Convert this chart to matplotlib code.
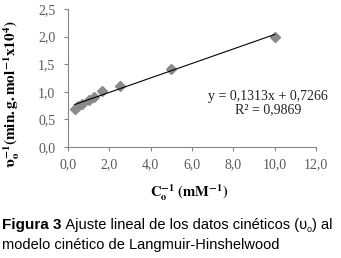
import matplotlib
matplotlib.use("Agg")
import matplotlib.pyplot as plt
import numpy as np
from matplotlib.ticker import FuncFormatter

# data
x_inv_conc = [0.33, 0.5, 0.67, 1.0, 1.25, 1.67, 2.5, 5.0, 10.0]
y_inv_rate = [0.69, 0.74, 0.78, 0.85, 0.90, 1.01, 1.10, 1.42, 2.00]
slope = 0.1313
intercept = 0.7266
r2 = 0.9869
x_ticks = [0, 2, 4, 6, 8, 10, 12]
y_ticks = [0.0, 0.5, 1.0, 1.5, 2.0, 2.5]

plt.rcParams['mathtext.fontset'] = 'stix'
serif = 'Liberation Serif'
sans = 'Liberation Sans'

fig = plt.figure(figsize=(3.41, 2.58), dpi=100)
ax = fig.add_axes([0.199, 0.430, 0.728, 0.535])

ax.plot(x_inv_conc, y_inv_rate, linestyle='none', marker='D', markersize=5.5,
        color='#8a8a8a', markeredgecolor='#8a8a8a', zorder=3)
xs = np.array([min(x_inv_conc), max(x_inv_conc)])
ax.plot(xs, slope * xs + intercept, color='black', lw=0.8, zorder=4)

ax.set_xlim(0, 12)
ax.set_ylim(0, 2.5)
ax.set_xticks(x_ticks)
ax.set_yticks(y_ticks)
fmt = FuncFormatter(lambda v, p: f"{v:.1f}".replace('.', ','))
ax.xaxis.set_major_formatter(fmt)
ax.yaxis.set_major_formatter(fmt)
for s in ['top', 'right']:
    ax.spines[s].set_visible(False)
for s in ['left', 'bottom']:
    ax.spines[s].set_color('#868686')
    ax.spines[s].set_linewidth(0.8)
ax.tick_params(axis='both', direction='out', length=3, width=0.8, color='#868686',
               labelsize=10, labelcolor='#5a5a5a')
ax.tick_params(axis='x', pad=5)
ax.tick_params(axis='y', pad=6)
for lab in ax.get_xticklabels() + ax.get_yticklabels():
    lab.set_fontfamily(serif)

ax.set_xlabel(r"$\mathbf{C_o^{-1}\ (mM^{-1})}$", fontsize=10.5)
ax.set_ylabel(r"$\mathbf{\upsilon_o^{-1}(min.g.mol^{-1}x10^4)}$", fontsize=11)
ax.xaxis.set_label_coords(0.49, -0.254)
ax.yaxis.set_label_coords(-0.185, 0.384)

ax.text(9.68, 0.915, f"y = {slope:.4f}x + {intercept:.4f}".replace('.', ','),
        ha='center', va='center', fontsize=10, family=serif, color='#222222')
ax.text(9.68, 0.675, f"R² = {r2:.4f}".replace('.', ','),
        ha='center', va='center', fontsize=10, family=serif, color='#222222')

# caption
renderer = fig.canvas.get_renderer()
def place(pieces, x0, y0):
    x = x0
    for txt, kw in pieces:
        t = fig.text(x, y0 + kw.pop('dy', 0), txt, va='baseline', ha='left', **kw)
        bb = t.get_window_extent(renderer=renderer)
        x = x + bb.width / fig.bbox.width
    return x

y1 = 1 - 229 / 258
y2 = 1 - 249 / 258
fs = 10.5
place([("Figura 3", dict(fontsize=11, family=sans, weight='bold')),
       (" Ajuste lineal de los datos cinéticos (υ", dict(fontsize=fs, family=sans)),
       ("o", dict(fontsize=6.5, family=sans, dy=-0.012)),
       (") al", dict(fontsize=fs, family=sans))], 2 / 341, y1)
fig.text(2 / 341, y2, "modelo cinético de Langmuir-Hinshelwood", fontsize=fs,
         family=sans, va='baseline', ha='left')

fig.savefig("out.png", dpi=100)
